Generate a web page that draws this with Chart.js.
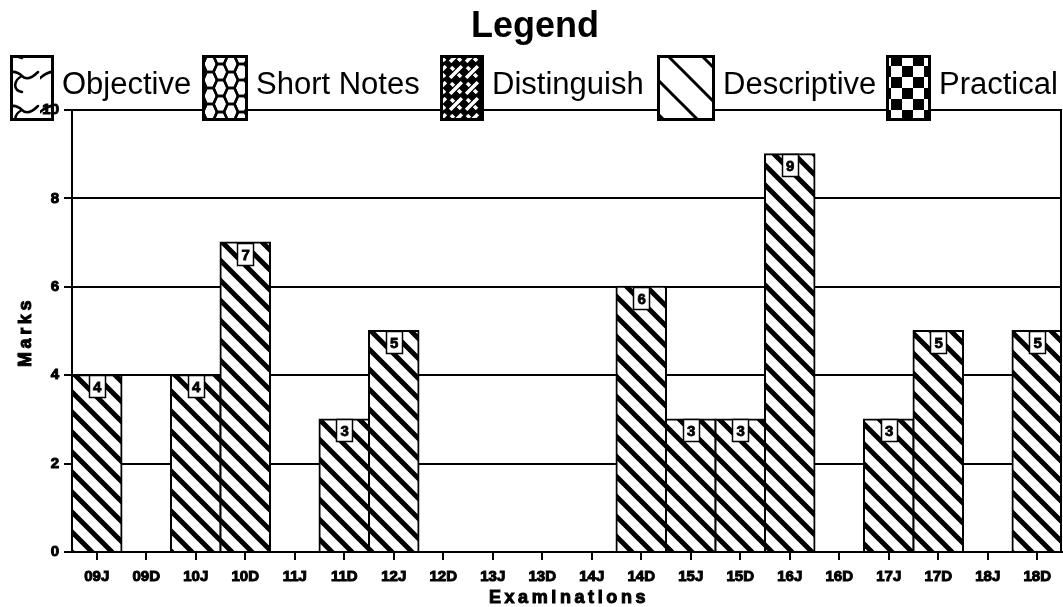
<!DOCTYPE html>
<html>
<head>
<meta charset="utf-8">
<script src="https://cdn.jsdelivr.net/npm/chart.js@4.4.1/dist/chart.umd.min.js"></script>
<style>
html,body{margin:0;padding:0;background:#fff;}
#wrap{width:1063px;height:607px;position:relative;}
</style>
</head>
<body>
<div id="wrap"><canvas id="c" width="1063" height="607"></canvas></div>
<script>
// ---- data ----
const categories = ['09J','09D','10J','10D','11J','11D','12J','12D','13J','13D','14J','14D','15J','15D','16J','16D','17J','17D','18J','18D'];
const objective   = [0,0,0,0,0,0,0,0,0,0,0,0,0,0,0,0,0,0,0,0];
const shortNotes  = [0,0,0,0,0,0,0,0,0,0,0,0,0,0,0,0,0,0,0,0];
const distinguish = [0,0,0,0,0,0,0,0,0,0,0,0,0,0,0,0,0,0,0,0];
const descriptive = [4,0,4,7,0,3,5,0,0,0,0,6,3,3,9,0,3,5,0,5];
const practical   = [0,0,0,0,0,0,0,0,0,0,0,0,0,0,0,0,0,0,0,0];
const seriesNames = ['Objective','Short Notes','Distinguish','Descriptive','Practical'];
const yTicks = [0,2,4,6,8,10];

// ---- pattern tiles ----
function tile(w,h,draw){
  const c=document.createElement('canvas'); c.width=w; c.height=h;
  const g=c.getContext('2d'); draw(g,w,h);
  return document.getElementById('c').getContext('2d').createPattern(c,'repeat');
}
function stripes(size,lw){
  return tile(size,size,(g,w,h)=>{
    g.fillStyle='#fff'; g.fillRect(0,0,w,h);
    g.strokeStyle='#000'; g.lineWidth=lw;
    g.beginPath();
    for(let k=-1;k<=1;k++){ g.moveTo(-2,-2+k*size); g.lineTo(size+2,size+2+k*size); }
    g.stroke();
  });
}
function checker(s){
  return tile(2*s,2*s,(g)=>{
    g.fillStyle='#fff'; g.fillRect(0,0,2*s,2*s);
    g.fillStyle='#000'; g.fillRect(0,0,s,s); g.fillRect(s,s,s,s);
  });
}
function honey(){
  const W=21,H=16;
  return tile(W,H,(g)=>{
    g.fillStyle='#fff'; g.fillRect(0,0,W,H);
    g.strokeStyle='#000'; g.lineWidth=2.5;
    const hex=(cx,cy)=>{g.beginPath();g.moveTo(cx-7,cy);g.lineTo(cx-3.5,cy-8);g.lineTo(cx+3.5,cy-8);g.lineTo(cx+7,cy);g.lineTo(cx+3.5,cy+8);g.lineTo(cx-3.5,cy+8);g.closePath();g.stroke();};
    [[0,0],[W,0],[0,H],[W,H],[W/2,H/2],[W/2,-H/2],[W/2,H*1.5]].forEach(p=>hex(p[0],p[1]));
  });
}
function weave(){
  const S=16;
  return tile(S,S,(g)=>{
    g.fillStyle='#000'; g.fillRect(0,0,S,S);
    g.strokeStyle='#fff'; g.lineWidth=3.5;
    g.beginPath();
    for(let k=-1;k<=1;k++){ g.moveTo(-2,-2+k*S); g.lineTo(S+2,S+2+k*S); }
    g.stroke();
    g.strokeStyle='#000'; g.lineWidth=6;
    g.beginPath(); g.moveTo(S/2-3,S/2+3); g.lineTo(S/2+3,S/2-3); g.stroke();
    g.strokeStyle='#fff'; g.lineWidth=3.5;
    g.beginPath();
    for(let k=-1;k<=1;k++){ g.moveTo(-2,S+2+k*S); g.lineTo(S+2,-2+k*S); }
    g.stroke();
    g.strokeStyle='#000'; g.lineWidth=6;
    g.beginPath(); g.moveTo(-3,-3); g.lineTo(3,3); g.moveTo(S-3,S-3); g.lineTo(S+3,S+3);
    g.moveTo(S-3,-3); g.lineTo(S+3,3); g.moveTo(-3,S-3); g.lineTo(3,S+3); g.stroke();
  });
}
function swirl(){
  const W=40,H=34;
  return tile(W,H,(g)=>{
    g.fillStyle='#fff'; g.fillRect(0,0,W,H);
    g.strokeStyle='#000'; g.lineWidth=2.5; g.lineCap='round';
    const wave=(oy)=>{
      g.beginPath();
      g.moveTo(-2,oy+12);
      g.bezierCurveTo(8,oy+2,16,oy+2,22,oy+8);
      g.bezierCurveTo(26,oy+12,32,oy+10,38,oy+4);
      g.moveTo(22,oy+8);
      g.bezierCurveTo(14,oy+12,12,oy+22,22,oy+24);
      g.stroke();
    };
    wave(0); wave(H); wave(-H);
  });
}
const barPattern = stripes(20,5);
const legendPatterns = [swirl(), honey(), weave(), stripes(34,3), checker(11)];
const seriesPatterns = [swirl(), honey(), weave(), barPattern, checker(11)];
const seriesData = [objective, shortNotes, distinguish, descriptive, practical];

const legendLayout = {boxX:[10,202,440,657,886], boxW:[44,46,44,58,45], top:55, h:66};
const FONT='"Liberation Sans", Arial, sans-serif';

const overlay = {
  id:'overlay',
  afterDatasetsDraw(chart){
    const ctx=chart.ctx, ca=chart.chartArea;
    ctx.save();
    ctx.strokeStyle='#000'; ctx.lineWidth=2;
    ctx.beginPath(); ctx.moveTo(ca.right-1,ca.top-1); ctx.lineTo(ca.right-1,ca.bottom); ctx.stroke();
    // value labels
    chart.data.datasets.forEach((ds,i)=>{
      const meta=chart.getDatasetMeta(i);
      meta.data.forEach((bar,j)=>{
        const v=ds.data[j]; if(!v) return;
        const w=16,h=22, x=Math.round(bar.x-w/2)+0.5, y=Math.round(bar.y)+0.5;
        ctx.fillStyle='#fff'; ctx.fillRect(x,y,w,h);
        ctx.strokeStyle='#000'; ctx.lineWidth=1.5; ctx.strokeRect(x,y,w,h);
        ctx.fillStyle='#000'; ctx.font='bold 15px '+FONT;
        ctx.textAlign='center'; ctx.textBaseline='middle';
        ctx.lineWidth=0.8; ctx.strokeText(String(v), bar.x+0.5, y+h/2+1);
        ctx.fillText(String(v), bar.x+0.5, y+h/2+1);
      });
    });
    // legend
    const L=legendLayout;
    chart.data.datasets.forEach((ds,i)=>{
      const x=L.boxX[i], w=L.boxW[i];
      ctx.fillStyle=legendPatterns[i]; ctx.fillRect(x,L.top,w,L.h);
      ctx.strokeStyle='#000'; ctx.lineWidth=3; ctx.strokeRect(x+1.5,L.top+1.5,w-3,L.h-3);
      ctx.fillStyle='#000'; ctx.font='31px '+FONT;
      ctx.textAlign='left'; ctx.textBaseline='middle';
      ctx.fillText(ds.label, x+w+8, 85);
    });
    ctx.font='bold 36px '+FONT;
    ctx.textAlign='center'; ctx.textBaseline='middle';
    ctx.fillText('Legend', 535, 27);
    ctx.restore();
  },
  afterDraw(chart){
    const ctx=chart.ctx, ca=chart.chartArea;
    ctx.save();
    ctx.fillStyle='#000'; ctx.strokeStyle='#000'; ctx.lineWidth=1;
    ctx.font='bold 18px '+FONT;
    ctx.textAlign='center'; ctx.textBaseline='middle';
    ctx.letterSpacing='3.6px';
    const ex=(ca.left+ca.right)/2+2;
    ctx.strokeText('Examinations', ex, 598); ctx.fillText('Examinations', ex, 598);
    ctx.translate(26,(ca.top+ca.bottom)/2+3);
    ctx.rotate(-Math.PI/2);
    ctx.strokeText('Marks', 2, 0); ctx.fillText('Marks', 2, 0);
    ctx.restore();
  }
};

new Chart(document.getElementById('c'), {
  type:'bar',
  data:{
    labels:categories,
    datasets: seriesNames.map((name,i)=>({
      label:name,
      data:seriesData[i],
      backgroundColor:seriesPatterns[i],
      borderColor:'#000',
      borderWidth:(c)=> (c.raw ? 2 : 0),
      inflateAmount:(c)=> (c.raw ? 1 : 0),
      borderSkipped:'start',
      barPercentage:1,
      categoryPercentage:1
    }))
  },
  options:{
    responsive:false,
    animation:false,
    devicePixelRatio:1,
    layout:{padding:{top:110,right:1,left:0,bottom:0}},
    plugins:{legend:{display:false}, title:{display:false}, tooltip:{enabled:false}},
    scales:{
      x:{
        stacked:true,
        grid:{display:true, drawOnChartArea:false, drawTicks:true, tickLength:8, offset:false, color:'#000', lineWidth:2},
        border:{display:true, color:'#000', width:2},
        ticks:{color:'#000', font:{family:FONT, size:15, weight:'bold'}, textStrokeColor:'#000', textStrokeWidth:1, padding:8, maxRotation:0, autoSkip:false},
        afterFit:(s)=>{s.height=55;}
      },
      y:{
        stacked:true, min:0, max:10,
        afterBuildTicks:(s)=>{s.ticks=yTicks.map(v=>({value:v}));},
        grid:{color:'#000', lineWidth:2, tickLength:8, drawTicks:true},
        border:{display:true, color:'#000', width:2},
        ticks:{color:'#000', font:{family:FONT, size:15, weight:'bold'}, textStrokeColor:'#000', textStrokeWidth:1, padding:5, z:1},
        afterFit:(s)=>{s.width=72;}
      }
    }
  },
  plugins:[overlay]
});
</script>
</body>
</html>
